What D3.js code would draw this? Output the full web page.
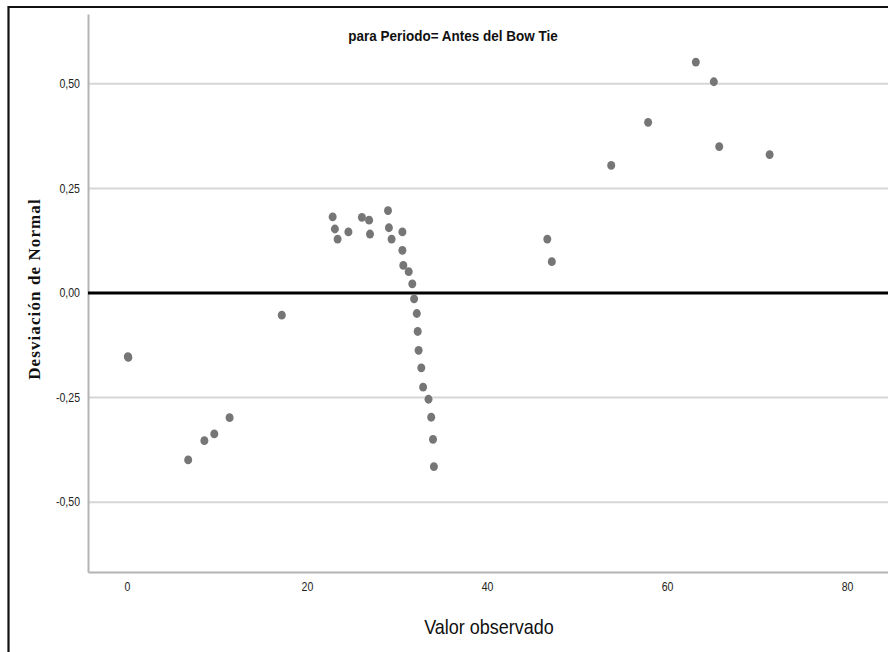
<!DOCTYPE html>
<html>
<head>
<meta charset="utf-8">
<script src="https://cdn.jsdelivr.net/npm/d3@7"></script>
<style>
  html, body { margin: 0; padding: 0; background: #fff; }
  svg { display: block; }
</style>
</head>
<body>
<svg id="chart" width="888" height="652"></svg>
<script>
// Observed value vs. deviation from normal (detrended normal Q-Q)
const observed = [0.1, 0.15, 6.8, 8.6, 9.7, 11.4, 17.2,
  22.85, 23.1, 23.4, 24.6, 26.1, 26.9, 27.0, 29.0, 29.1, 29.4,
  30.6, 30.6, 30.7, 31.3, 31.7, 31.9, 32.2, 32.3, 32.4, 32.7, 32.9,
  33.5, 33.8, 34.0, 34.1,
  46.7, 47.2, 53.8, 57.9, 63.2, 65.2, 65.8, 71.4];
const deviation = [-0.152, -0.154, -0.399, -0.353, -0.337, -0.298, -0.053,
  0.182, 0.153, 0.129, 0.146, 0.181, 0.174, 0.141, 0.197, 0.156, 0.129,
  0.146, 0.102, 0.066, 0.051, 0.022, -0.014, -0.049, -0.092, -0.137, -0.179, -0.225,
  -0.254, -0.297, -0.350, -0.415,
  0.129, 0.075, 0.305, 0.408, 0.552, 0.505, 0.350, 0.331];

const xTicks = [0, 20, 40, 60, 80];
const yTicks = [-0.50, -0.25, 0.00, 0.25, 0.50];
const gridTicks = [-0.50, -0.25, 0.25, 0.50];

const titleText = "para Periodo= Antes del Bow Tie";
const xTitle = "Valor observado";
const yTitle = "Desviación de Normal";

const svg = d3.select("#chart");
const W = 888, H = 652;
const plotLeft = 88, plotTop = 14, plotBottom = 572, plotRight = 888;

const x = d3.scaleLinear().domain([-4.33, 84.55]).range([plotLeft, plotRight]);
const y = d3.scaleLinear().domain([-0.667, 0.667]).range([plotBottom, plotTop]);

const sans = "'Liberation Sans', Arial, sans-serif";
const fmt = v => d3.format(".2f")(v).replace(".", ",").replace("−", "-");

// outer frame (cropped on the right and bottom)
svg.append("path")
  .attr("d", `M8.5,${H + 2} L8.5,7 L${W + 2},7`)
  .attr("fill", "none").attr("stroke", "#111").attr("stroke-width", 2.2);

// horizontal grid lines
svg.append("g").selectAll("line").data(gridTicks).join("line")
  .attr("x1", plotLeft).attr("x2", plotRight)
  .attr("y1", d => y(d)).attr("y2", d => y(d))
  .attr("stroke", "#d6d6d6").attr("stroke-width", 2);

// axes
const yAxis = d3.axisLeft(y).tickValues(yTicks).tickSize(0).tickPadding(8).tickFormat(fmt);
const gy = svg.append("g").attr("transform", `translate(${plotLeft},0)`).call(yAxis);
gy.select(".domain").attr("stroke", "#b4b4b4").attr("stroke-width", 2);
gy.selectAll("text").attr("font-family", sans).attr("font-size", 12).attr("fill", "#222")
  .attr("transform", "scale(0.88,1)").attr("x", -8 / 0.88);

const xAxis = d3.axisBottom(x).tickValues(xTicks).tickSize(0).tickPadding(10).tickFormat(d3.format("d"));
const gx = svg.append("g").attr("transform", `translate(0,${plotBottom})`).call(xAxis);
gx.select(".domain").attr("stroke", "#b4b4b4").attr("stroke-width", 2);
gx.selectAll("text").attr("font-family", sans).attr("font-size", 12).attr("fill", "#222")
  .attr("transform", "scale(0.88,1)");

// zero reference line
svg.append("line")
  .attr("x1", plotLeft).attr("x2", plotRight)
  .attr("y1", y(0)).attr("y2", y(0))
  .attr("stroke", "#000").attr("stroke-width", 3);

// points
svg.append("g").selectAll("ellipse").data(observed.map((v, i) => [v, deviation[i]])).join("ellipse")
  .attr("cx", d => x(d[0])).attr("cy", d => y(d[1]))
  .attr("rx", 4).attr("ry", 4.4)
  .attr("fill", "#767676");

// titles (narrowed horizontally for a condensed look)
svg.append("text").attr("transform", "translate(453,41) scale(0.9,1)")
  .attr("text-anchor", "middle").attr("font-family", sans)
  .attr("font-weight", "bold").attr("font-size", 15).attr("fill", "#111")
  .text(titleText);

svg.append("text").attr("transform", "translate(489,634) scale(0.9,1)")
  .attr("text-anchor", "middle").attr("font-family", sans)
  .attr("font-size", 20).attr("fill", "#111")
  .text(xTitle);

svg.append("text")
  .attr("transform", `translate(40,289) rotate(-90)`)
  .attr("text-anchor", "middle").attr("font-family", "'Liberation Serif', 'Times New Roman', serif")
  .attr("font-weight", "bold").attr("font-size", 17).attr("letter-spacing", 1.1).attr("fill", "#111")
  .text(yTitle);
</script>
</body>
</html>
